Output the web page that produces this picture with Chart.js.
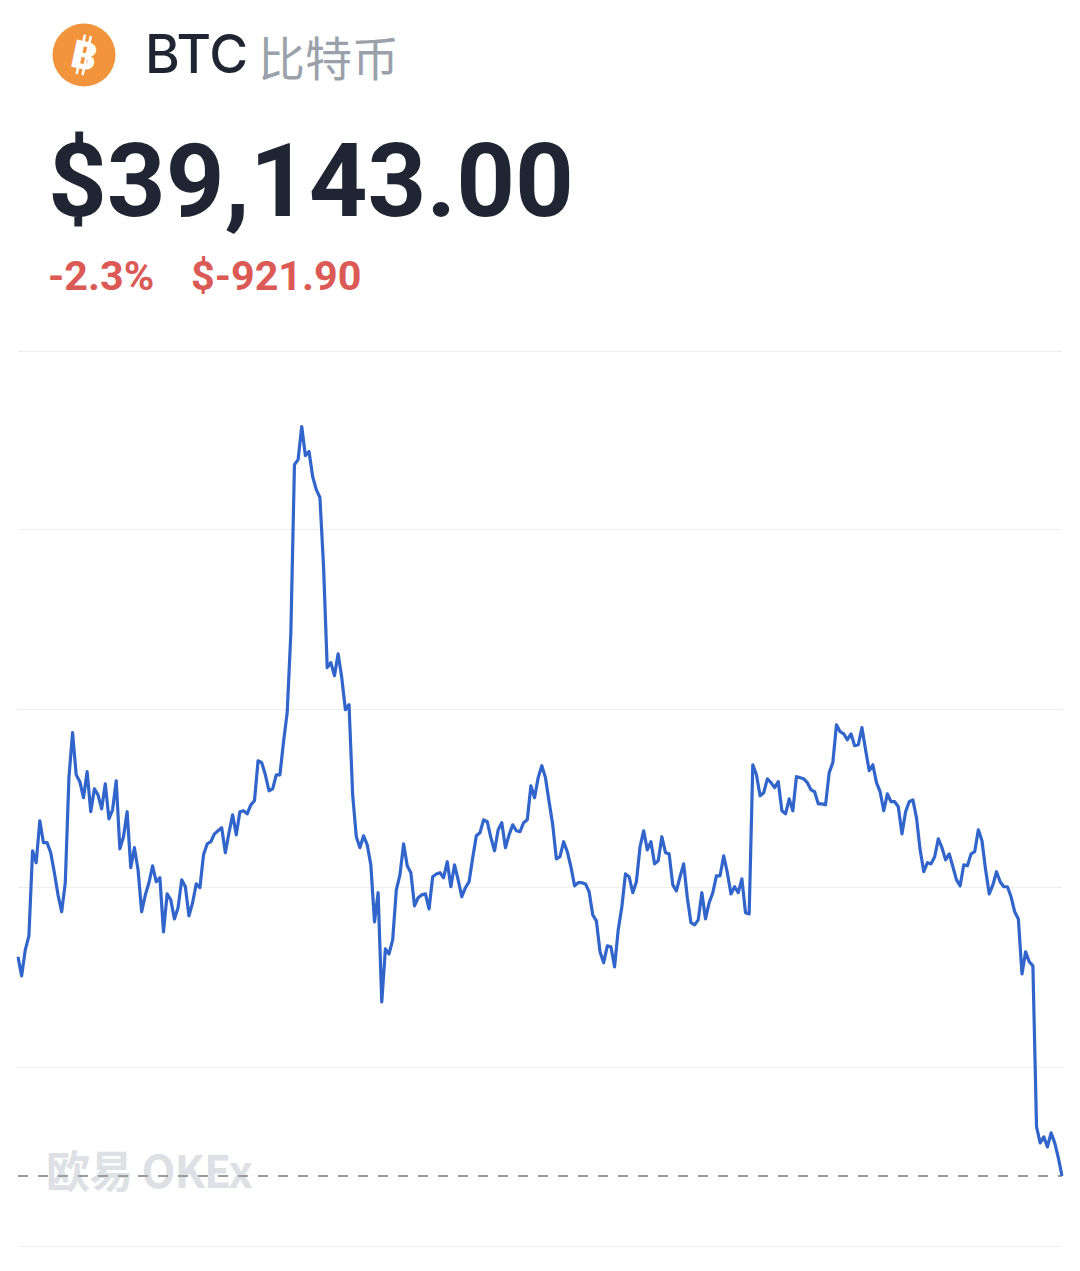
<!DOCTYPE html>
<html lang="zh">
<head>
<meta charset="utf-8">
<title>BTC 比特币</title>
<script src="https://cdn.jsdelivr.net/npm/chart.js@4/dist/chart.umd.min.js"></script>
<style>
html,body{margin:0;padding:0;background:#fff;width:1080px;height:1271px;overflow:hidden}
.t{position:absolute;white-space:nowrap;line-height:1;margin:0}
#sym{left:145px;top:22px;font:500 53px Inter,Roboto,sans-serif;color:#1f2533;letter-spacing:-.3px}
#cn{left:258px;top:21px;font:400 47px "Noto Sans CJK SC",sans-serif;color:#9aa1ab}
#price{left:48px;top:121px;font:700 102.6px Roboto,sans-serif;color:#1f2533}
#pct{left:48px;top:252px;font:700 41.3px Roboto,sans-serif;color:#dc5a56}
#chg{left:191px;top:252px;font:700 41.3px Roboto,sans-serif;color:#dc5a56}
#wm{left:46px;top:1137px;font:700 44px "Noto Sans CJK SC",Inter,sans-serif;color:#dde0e5;letter-spacing:-.8px}
#logo{position:absolute;left:52px;top:23px;width:64px;height:64px}
#wrap{position:absolute;left:0;top:0;width:1080px;height:1271px}
</style>
</head>
<body>
<svg id="logo" viewBox="0 0 64 64">
<circle cx="32" cy="32" r="31.5" fill="#f1943b"/>
<g transform="rotate(12 32 32)" fill="#fff">
<rect x="27.5" y="12" width="2.5" height="40"/><rect x="33.5" y="12" width="2.5" height="40"/>
<text x="32.5" y="46" text-anchor="middle" font-family="Roboto" font-weight="900" font-size="39">B</text>
</g>
</svg>
<div class="t" id="sym">BTC</div>
<div class="t" id="cn">比特币</div>
<div class="t" id="price">$39,143.00</div>
<div class="t" id="pct">-2.3%</div>
<div class="t" id="chg">$-921.90</div>
<div class="t" id="wm">欧易 OKEx</div>
<div id="wrap"><canvas id="c"></canvas></div>
<script>
const lastPrice = 39143;
const prices = [
40063,39983,40092,40151,40508,40458,40634,40542,40542,40500,40416,40323,40252,40374,40815,41004,40827,40798,40731,40840,
40672,40768,40743,40684,40789,40642,40680,40802,40516,40567,40672,40437,40521,40428,40252,40323,40374,40445,40378,40395,
40168,40327,40302,40222,40269,40386,40357,40235,40290,40369,40353,40491,40537,40546,40579,40592,40605,40500,40584,40659,
40575,40672,40676,40663,40701,40718,40886,40878,40827,40760,40768,40827,40827,40966,41088,41419,42129,42150,42289,42167,
42184,42079,42024,41991,41701,41277,41298,41243,41335,41235,41100,41121,40743,40567,40521,40571,40533,40449,40210,40332,
39874,40096,40075,40134,40344,40407,40537,40445,40416,40277,40311,40323,40327,40264,40399,40411,40416,40395,40462,40357,
40449,40386,40315,40353,40378,40479,40571,40584,40638,40630,40563,40508,40596,40626,40521,40575,40617,40592,40588,40626,
40638,40781,40731,40815,40865,40815,40714,40617,40474,40483,40546,40504,40441,40361,40374,40374,40369,40336,40239,40214,
40084,40038,40109,40105,40021,40176,40273,40411,40399,40332,40378,40525,40592,40512,40546,40453,40466,40567,40500,40495,
40365,40340,40399,40453,40311,40206,40197,40218,40332,40222,40290,40332,40403,40403,40487,40416,40327,40357,40332,40390,
40248,40243,40869,40827,40739,40752,40810,40794,40773,40798,40676,40663,40726,40676,40819,40815,40810,40794,40764,40756,
40705,40705,40701,40836,40878,41037,41008,40999,40974,40999,40949,40953,41025,40932,40844,40869,40794,40756,40676,40747,
40714,40714,40693,40579,40672,40714,40722,40647,40512,40420,40458,40453,40483,40558,40521,40470,40495,40441,40386,40361,
40449,40445,40495,40504,40596,40550,40428,40327,40365,40420,40378,40357,40357,40315,40252,40222,39991,40084,40042,40025,
39349,39282,39307,39265,39324,39282,39219,39143];
const categories = prices.map((_, i) => String(i));
const yTicks = [38849, 39600, 40352, 41103, 41855, 42606];
const lastLine = prices.map(() => lastPrice);

new Chart(document.getElementById('c'), {
  type: 'line',
  data: {
    labels: categories,
    datasets: [
      {data: prices, borderColor: '#3165cb', borderWidth: 3.2, pointRadius: 0, tension: 0, borderJoinStyle: 'round', borderCapStyle: 'butt', order: 1},
      {data: lastLine, borderColor: '#9b9b9b', borderWidth: 2, borderDash: [10, 10], pointRadius: 0, order: 2}
    ]
  },
  options: {
    responsive: true,
    maintainAspectRatio: false,
    animation: false,
    devicePixelRatio: 1,
    layout: {padding: {left: 18, right: 18, top: 351, bottom: 17}},
    plugins: {legend: {display: false}, tooltip: {enabled: false}, title: {display: false}},
    scales: {
      x: {type: 'category', offset: false, display: true, grid: {display: false}, border: {display: false}, ticks: {display: false}},
      y: {
        min: yTicks[0], max: yTicks[yTicks.length - 1],
        afterBuildTicks: s => { s.ticks = yTicks.map(v => ({value: v})); },
        grid: {color: '#eceef1', lineWidth: 1, drawTicks: false},
        border: {display: false},
        ticks: {display: false}
      }
    }
  }
});
</script>
</body>
</html>
